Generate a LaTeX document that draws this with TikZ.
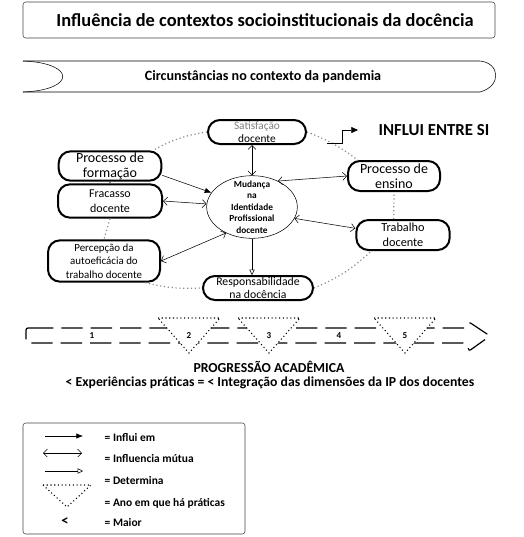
\documentclass[tikz,border=0pt]{standalone}
\usepackage{fontspec}
\setmainfont{Carlito}
\usepackage{tikz}
\usetikzlibrary{arrows.meta,positioning,calc,shapes.geometric}
\definecolor{ringgray}{HTML}{8A8A8A}
\definecolor{framegray}{HTML}{444444}

\begin{document}
\begin{tikzpicture}[x=0.75pt,y=-0.75pt,
    every node/.style={font=\footnotesize},
    cbox/.style={draw,line width=1.5pt,rounded corners=9pt,fill=white,align=center,inner sep=0pt},
    mud/.style={draw,ellipse,thin,fill=white,align=center,inner sep=-5pt,minimum width=68pt,minimum height=47pt,font=\fontsize{7}{8.6}\selectfont\bfseries},
    ring/.style={ringgray,dotted,line width=0.9pt},
    infl/.style={-{Latex[length=5pt,width=4pt]},thin},
    mutua/.style={{Straight Barb[length=3pt,width=6pt]}-{Straight Barb[length=3pt,width=6pt]},thin},
    determ/.style={-{Triangle[open,length=4pt,width=4pt]},thin},
    tri/.style={dotted,line width=0.8pt,fill=white},
    prog/.style={dash pattern=on 16pt off 6pt,line width=0.9pt,rounded corners=1.5pt},
    leg/.style={anchor=west,font=\fontsize{8.6}{10}\selectfont\bfseries}
]
\useasboundingbox (0,0) rectangle (524,537);

\draw[framegray,thin,rounded corners=2pt] (23,2) rectangle (495,38);
\node[font=\fontsize{13.8}{16}\selectfont\bfseries] (titulo) at (265,20) {Influência de contextos socioinstitucionais da docência};

\draw[thin] (23,61) -- (480,61) .. controls (500,63) and (502,86) .. (480,92) -- (23,92);
\draw[thin] (23,61) .. controls (76,63) and (76,90) .. (23,92);
\node[font=\fontsize{10.6}{12}\selectfont\bfseries] (pandemia) at (263,77) {Circunstâncias no contexto da pandemia};

\node[cbox,minimum width=73.5pt,minimum height=18pt,font=\fontsize{8.5}{9.5}\selectfont] (sat) at (257,132) {\textcolor{gray}{Satisfação}\\docente};
\node[cbox,minimum width=77pt,minimum height=22pt,font=\fontsize{10.5}{11.5}\selectfont] (form) at (110,166) {Processo de\\formação};
\node[cbox,minimum width=78pt,minimum height=25pt,font=\fontsize{9}{11}\selectfont] (frac) at (110,201) {Fracasso\\docente};
\node[cbox,minimum width=84pt,minimum height=31pt,font=\fontsize{8.2}{10}\selectfont] (perc) at (104,261) {Percepção da\\autoeficácia do\\trabalho docente};
\node[cbox,minimum width=82.5pt,minimum height=18pt,font=\fontsize{8.8}{9.5}\selectfont] (resp) at (258,288) {Responsabilidade\\na docência};
\node[cbox,minimum width=69pt,minimum height=22.5pt,font=\fontsize{10.5}{11.5}\selectfont] (ens) at (394,176) {Processo de\\ensino};
\node[cbox,minimum width=70pt,minimum height=22.5pt,font=\fontsize{9.2}{11}\selectfont] (trab) at (403,235) {Trabalho\\docente};
\node[mud] (mudanca) at (252,207) {Mudança\\na\\Identidade\\Profissional\\docente};
\node[font=\fontsize{12.6}{14}\selectfont\bfseries] (influi) at (434,130) {INFLUI ENTRE SI};

\draw[ring] (sat.west) to[bend right=10] ([xshift=-7pt]form.north east);
\draw[ring] (form.south) -- (frac.north);
\draw[ring] (frac.south) -- (perc.north);
\draw[ring] ([xshift=-12pt]perc.south east) to[bend right=8] (resp.west);
\draw[ring] (resp.east) to[bend right=10] ([xshift=12pt]trab.south west);
\draw[ring] ([xshift=-7pt]trab.north) -- (ens.south);
\draw[ring] (sat.east) to[bend left=8] ([xshift=8pt]ens.north west);

\coordinate (inflStart) at (327,143);
\coordinate (inflBend) at (342,143);
\draw[-{Triangle[length=5pt,width=4.5pt]},thin] (inflStart) -- (inflBend) |- ([xshift=-12pt]influi.west);

\draw[infl] ([yshift=-7pt]form.east) -- (mudanca);
\draw[mutua] (frac.east) -- (mudanca);
\draw[mutua] (perc.east) -- (mudanca.225);
\draw[mutua] (sat.south -| mudanca.north) -- (mudanca.north);
\draw[mutua] (ens.west) -- (mudanca.45);
\draw[mutua] (mudanca.-15) -- ([yshift=5pt]trab.west);
\draw[determ] (mudanca.south) -- (mudanca.south |- resp.north);

\draw[prog] (30,328) -- (467,328) -- (469,322) -- (490,336) -- (469,351) -- (467,343) -- (26,343) -- (26,328) -- cycle;
\foreach \n/\x in {2/189,3/269,5/405}{
  \draw[tri] (\x-31,318) -- (\x+31,318) -- (\x,353) -- cycle;
  \node[font=\fontsize{6.8}{7}\selectfont\bfseries] (ano\n) at (\x,336) {\n};
}
\node[font=\fontsize{6.8}{7}\selectfont\bfseries] (ano1) at (92,336) {1};
\node[font=\fontsize{6.8}{7}\selectfont\bfseries] (ano4) at (339,336) {4};

\node[font=\fontsize{10.3}{12}\selectfont\bfseries] (progressao) at (269,367) {PROGRESSÃO ACADÊMICA};
\node[font=\fontsize{10.3}{12}\selectfont\bfseries] (experiencia) at (270,383) {< Experiências práticas = < Integração das dimensões da IP dos docentes};

\draw[framegray,thin,rounded corners=2pt] (23,423) rectangle (245,534);
\coordinate (l1a) at (45,436);  \coordinate (l1b) at (83,436);
\coordinate (l2a) at (43,453);  \coordinate (l2b) at (82,453);
\coordinate (l3a) at (45,471);  \coordinate (l3b) at (83,471);
\draw[infl] (l1a) -- (l1b);
\draw[mutua] (l2a) -- (l2b);
\draw[determ] (l3a) -- (l3b);
\draw[tri] (43,485) -- (91,485) -- (67,507) -- cycle;
\node[font=\fontsize{11}{12}\selectfont\bfseries] (maior) at (65,522) {<};
\node[leg] (t1) at (100,438) {= Influi em};
\node[leg] (t2) at (100,459) {= Influencia mútua};
\node[leg] (t3) at (100,481) {= Determina};
\node[leg] (t4) at (100,503) {= Ano em que há práticas};
\node[leg] (t5) at (100,523) {= Maior};
\end{tikzpicture}
\end{document}
